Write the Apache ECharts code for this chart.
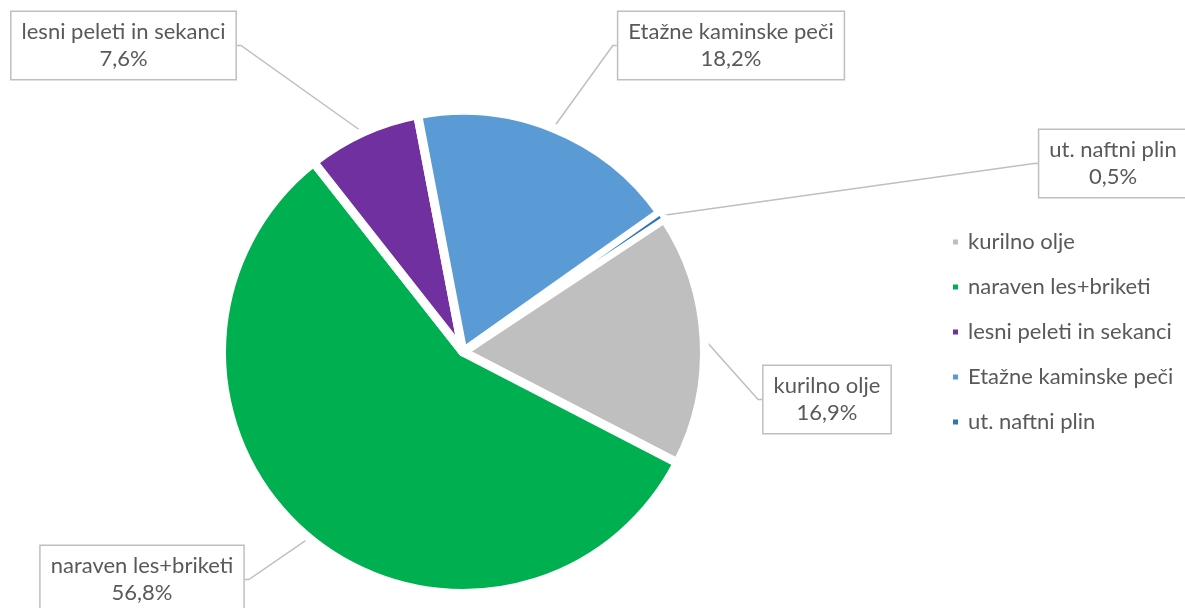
<!DOCTYPE html>
<html>
<head>
<meta charset="utf-8">
<script src="https://cdn.jsdelivr.net/npm/echarts@6/dist/echarts.min.js"></script>
<style>
  html, body { margin: 0; padding: 0; background: #ffffff; }
  #chart { width: 1185px; height: 608px; }
</style>
</head>
<body>
<div id="chart"></div>
<script>
// Data
const categories = ['kurilno olje', 'naraven les+briketi', 'lesni peleti in sekanci', 'Etažne kaminske peči', 'ut. naftni plin'];
const values = [16.9, 56.8, 7.6, 18.2, 0.5];
const colors = ['#BFBFBF', '#00B050', '#7030A0', '#5B9BD5', '#2E75B6'];

// Label box centres (layout only)
const labelPos = [
  [827, 399.5],
  [142, 579.5],
  [123.5, 45.5],
  [731, 45.5],
  [1113, 163.5]
];
// white separators between the slices (style only)
const gapWidths = [9, 9, 9, 9, 5];

const FONT = 'Lato';
const TEXT = '#595959';

const chart = echarts.init(document.getElementById('chart'), null, { renderer: 'canvas' });

const option = {
  backgroundColor: '#ffffff',
  animation: false,
  legend: {
    orient: 'vertical',
    left: 946,
    top: 225,
    icon: 'rect',
    itemWidth: 7,
    itemHeight: 7,
    itemGap: 21,
    data: categories,
    textStyle: { color: TEXT, fontFamily: FONT, fontSize: 22, lineHeight: 24, padding: [0, 0, 0, 4] },
    selectedMode: false
  },
  series: [{
    type: 'pie',
    center: [463, 352],
    radius: 241.5,
    startAngle: 33.5,
    clockwise: true,
    avoidLabelOverlap: false,
    emphasis: { scale: false },
    label: {
      show: true,
      position: 'outside',
      color: TEXT,
      fontFamily: FONT,
      fontSize: 22,
      lineHeight: 27,
      align: 'center',
      backgroundColor: '#ffffff',
      borderColor: '#BFBFBF',
      borderWidth: 1.5,
      padding: [7, 10, 6, 10],
      formatter: function (p) {
        return p.name + '\n' + p.value.toFixed(1).replace('.', ',') + '%';
      }
    },
    labelLine: {
      show: true,
      length: 10,
      length2: 4,
      lineStyle: { color: '#BFBFBF', width: 1.5 }
    },
    labelLayout: function (params) {
      const pos = labelPos[params.dataIndex];
      return { x: pos[0], y: pos[1], align: 'center', verticalAlign: 'middle' };
    },
    data: categories.map(function (name, i) {
      return {
        name: name,
        value: values[i],
        itemStyle: { color: colors[i], borderColor: '#ffffff', borderWidth: gapWidths[i], borderJoin: 'round' }
      };
    })
  }]
};

chart.setOption(option);
</script>
</body>
</html>
